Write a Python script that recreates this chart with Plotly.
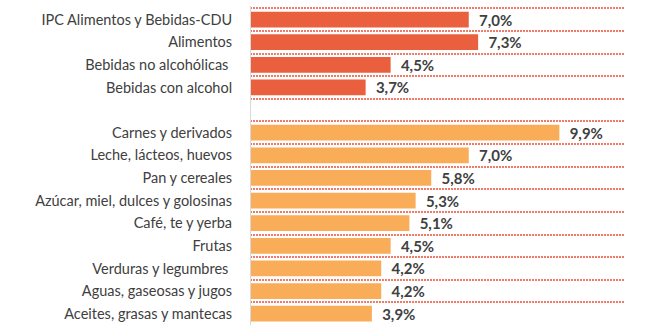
import plotly.graph_objects as go

# Category labels (top to bottom); the empty string leaves a blank row between groups
categories = [
    "IPC Alimentos y Bebidas-CDU",
    "Alimentos",
    "Bebidas no alcohólicas ",
    "Bebidas con alcohol",
    "",
    "Carnes y derivados",
    "Leche, lácteos, huevos",
    "Pan y cereales",
    "Azúcar, miel, dulces y golosinas",
    "Café, te y yerba",
    "Frutas",
    "Verduras y legumbres ",
    "Aguas, gaseosas y jugos",
    "Aceites, grasas y mantecas",
]

# Summary aggregates
group_values = [7.0, 7.3, 4.5, 3.7]
# Food and beverage sub-categories
detail_values = [9.9, 7.0, 5.8, 5.3, 5.1, 4.5, 4.2, 4.2, 3.9]

RED = "#EA5F3E"
ORANGE = "#F9AD59"
TEXT = "#404040"
GRID = "#F07A6A"

pos_group = list(range(0, 4))
pos_detail = list(range(5, 14))

fig = go.Figure()
for pos, vals, color in [(pos_group, group_values, RED), (pos_detail, detail_values, ORANGE)]:
    fig.add_trace(go.Bar(
        x=vals,
        y=pos,
        orientation="h",
        marker=dict(color=color, line=dict(width=0)),
        width=0.7,
        texttemplate="\u00a0\u00a0%{x:.1f}%",
        textposition="outside",
        constraintext="none",
        textfont=dict(family="Lato", size=15, color=TEXT, weight="bold"),
        cliponaxis=False,
        hoverinfo="skip",
    ))

boundaries = [i - 0.5 for i in range(len(categories) + 1)]

fig.update_layout(
    width=646,
    height=334,
    margin=dict(l=250, r=21, t=6, b=9),
    paper_bgcolor="white",
    plot_bgcolor="white",
    showlegend=False,
    separators=",.",
    bargap=0.3,
    font=dict(family="Lato", size=14.5, color=TEXT),
    xaxis=dict(
        range=[0, 12],
        showgrid=False,
        showticklabels=False,
        zeroline=False,
        showline=False,
        ticks="",
    ),
    yaxis=dict(
        range=[13.5, -0.6],
        tickmode="array",
        tickvals=list(range(len(categories))),
        ticktext=categories,
        showgrid=False,
        zeroline=False,
        showline=False,
        ticks="outside",
        ticklen=14,
        tickcolor="rgba(0,0,0,0)",
        tickfont=dict(family="Lato", size=14.5, color=TEXT),
        minor=dict(
            tickmode="array",
            tickvals=boundaries,
            showgrid=True,
            gridcolor=GRID,
            gridwidth=1.5,
            griddash="2px,1px",
            ticks="",
        ),
    ),
)

# Light vertical baseline at x = 0
fig.add_shape(type="line", xref="x", yref="paper", x0=0, x1=0, y0=0, y1=1,
              line=dict(color="#D9D9D9", width=2), layer="above")

fig.write_html("out.html")
